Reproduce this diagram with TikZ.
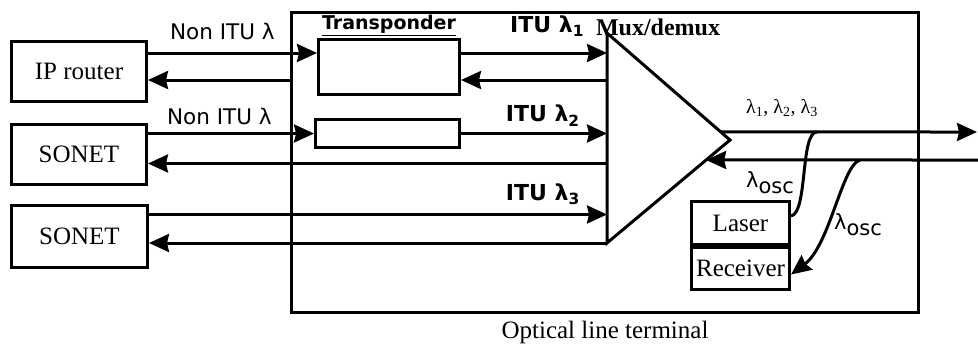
\documentclass[tikz,border=0pt]{standalone}
\usepackage{fontspec}
\setmainfont{Liberation Serif}
\setsansfont{DejaVu Sans}
\usetikzlibrary{arrows.meta,calc,positioning}

\begin{document}
\begin{tikzpicture}[x=1pt,y=-1pt,
    >={Stealth[length=20pt,width=18pt,inset=2pt]},
    box/.style={draw,line width=3pt,inner sep=0pt,anchor=north west,font=\fontsize{25}{27}\selectfont},
    wire/.style={line width=3pt},
    tag/.style={font=\sffamily\fontsize{21.5}{23}\selectfont,inner sep=2pt},
    bigtag/.style={font=\sffamily\bfseries\fontsize{22}{24}\selectfont,inner sep=2pt},
    osc/.style={font=\sffamily\fontsize{21}{23}\selectfont,inner sep=1pt}]
    \useasboundingbox (0,0) rectangle (978,346);
% Terminal
    \node[box,minimum width=627pt,minimum height=300pt] (olt) at (290,11) {};
    \node[below=7pt of olt.south,font=\fontsize{25}{27}\selectfont,inner sep=0pt] (oltname) {Optical line terminal};
% Clients
    \node[box,minimum width=135pt,minimum height=60pt] (router) at (10,40) {IP router};
    \node[box,minimum width=135pt,minimum height=60pt] (sonetA) at (10,123) {SONET};
    \node[box,minimum width=136pt,minimum height=62pt] (sonetB) at (10,204) {SONET};
% Transponders
    \node[box,minimum width=141pt,minimum height=55pt] (trpA) at (317,38) {};
    \node[box,minimum width=144pt,minimum height=28pt] (trpB) at (314,118) {};
    \node[font=\sffamily\bfseries\fontsize{19}{21}\selectfont,inner sep=1pt,above=1pt of trpA.north] (trpname) {\underline{Transponder}};
% Mux/demux
    \coordinate (muxtop) at (607,33);
    \coordinate (muxbot) at (607,243);
    \coordinate (muxtip) at (730,140);
    \draw[wire,line join=miter] (muxtop) -- (muxtip) -- (muxbot) -- cycle;
    \node[font=\bfseries\fontsize{24}{26}\selectfont] (muxname) at (658,27) {Mux/demux};
% Laser and receiver
    \node[box,minimum width=98pt,minimum height=43pt] (laser) at (690,200) {Laser};
    \node[box,minimum width=98pt,minimum height=42pt,anchor=north] (rcv) at (laser.south) {Receiver};
% Ports
    \coordinate (trpAin) at ([yshift=-15pt]trpA.north west);
    \coordinate (trpAback) at ([yshift=-42pt]trpA.north east);
    \coordinate (sonetAback) at ([yshift=-9pt]sonetA.east);
    \coordinate (sonetBout) at ([yshift=22pt]sonetB.east);
    \coordinate (muxout) at ($(muxtop)!0.925!(muxtip)$);
    \coordinate (muxin) at ($(muxbot)!0.806!(muxtip)$);
    \coordinate (lineout) at (977,132);
    \coordinate (linein) at (978,160);
    \coordinate (tapout) at (817,132);
    \coordinate (tapin) at (860,160);
% Channels
    \draw[wire,->] (router.east |- trpAin) -- node[tag,above=10pt,pos=0.44] (nonituA) {Non ITU λ} (trpAin);
    \draw[wire,->] (olt.west |- trpAback) -- (router.east |- trpAback);
    \draw[wire,->] (trpA.east |- trpAin) -- node[bigtag,above=13pt,pos=0.59] (ituA) {ITU λ\textsubscript{1}} (muxtop |- trpAin);
    \draw[wire,->] (muxtop |- trpAback) -- (trpA.east |- trpAback);
    \draw[wire,->] (sonetA.east |- trpB.west) -- node[tag,above=5pt,pos=0.43] (nonituB) {Non ITU λ} (trpB.west);
    \draw[wire,->] (trpB.east) -- node[bigtag,above=4pt,pos=0.56] (ituB) {ITU λ\textsubscript{2}} (muxtop |- trpB.east);
    \draw[wire,->] (muxtop |- sonetAback) -- (sonetAback);
    \draw[wire,->] (sonetBout) -- node[bigtag,above=6pt,pos=0.86] (ituC) {ITU λ\textsubscript{3}} (muxtop |- sonetBout);
    \draw[wire,->] (muxbot) -- (sonetB.east |- muxbot);
% Line side
    \draw[wire,->] (muxout) -- (lineout);
    \draw[wire,->] (linein) -- (muxin);
    \node[font=\fontsize{20}{22}\selectfont] (lambdas) at (782,108) {λ\textsubscript{1}, λ\textsubscript{2}, λ\textsubscript{3}};
% Supervisory channel
    \draw[wire] ([yshift=7pt]laser.east) .. controls (808,213) and (800,132) .. (tapout);
    \draw[wire,->] (tapin) .. controls (842,165) and (830,245) .. ([yshift=-6pt]rcv.east);
    \node[osc] (oscA) at (770,183) {λ\raisebox{-0.3em}{osc}};
    \node[osc] (oscB) at (858,225) {λ\raisebox{-0.3em}{osc}};
\end{tikzpicture}
\end{document}
